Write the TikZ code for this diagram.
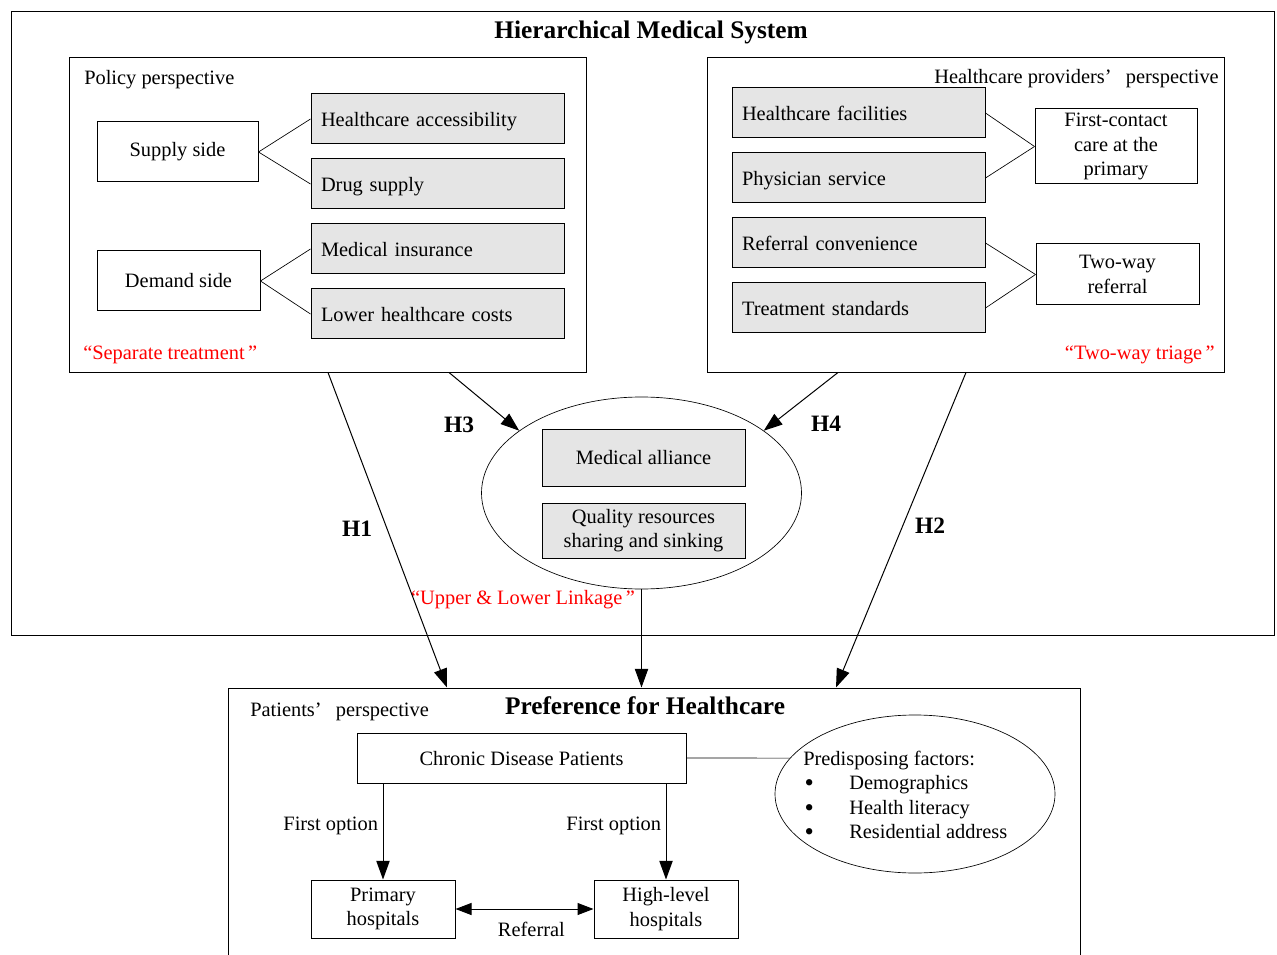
\documentclass[tikz,border=0pt]{standalone}
\usepackage{fontspec}
\setmainfont{Liberation Serif}
\usetikzlibrary{arrows.meta,shapes.geometric}

\newcommand{\listdot}{\makebox[34.5pt][l]{\hspace{1pt}\smash{\raisebox{-0.2ex}{\scalebox{1.3}{\textbullet}}}}}

\begin{document}
\begin{tikzpicture}[x=0.75pt,y=-0.75pt,
  every node/.style={font=\fontsize{15.3}{18.4}\selectfont},
  frame/.style={draw,line width=0.75pt,inner sep=0pt},
  greybox/.style={frame,fill=gray!20,minimum width=189.75pt,minimum height=37.5pt,text width=174.75pt,align=left,inner xsep=7.5pt,text depth=0pt},
  whitebox/.style={frame,align=center},
  oval/.style={draw,ellipse,line width=0.5pt,inner sep=0pt},
  link/.style={line width=0.5pt},
  arr/.style={line width=0.75pt,-{Triangle[length=14pt,width=10pt]}},
  hyp/.style={font=\fontsize{17.6}{20}\selectfont\bfseries},
  heading/.style={font=\fontsize{19}{22}\selectfont\bfseries},
  slogan/.style={text=red,inner sep=0pt}]
    \path[use as bounding box,clip] (0,0) rectangle (1277,955);

    \node[frame,minimum width=947.25pt,minimum height=467.25pt] (system) at (642.5,323.5) {};
    \node[heading] (systitle) at (651,32) {Hierarchical Medical System};

    \node[frame,minimum width=387.75pt,minimum height=235.5pt] (policy) at (327.5,215) {};
    \node[anchor=west,inner sep=0pt] (policylab) at (84,80) {Policy perspective};
    \node[whitebox,minimum width=120.75pt,minimum height=45pt] (supply) at (177.5,152) {Supply side};
    \node[whitebox,minimum width=122.25pt,minimum height=45pt] (demand) at (178.5,281) {Demand side};
    \node[greybox] (access) at (437.5,119) {Healthcare accessibility};
    \node[greybox] (drug) at (437.5,184) {Drug supply};
    \node[greybox] (insur) at (437.5,249) {Medical insurance};
    \node[greybox] (costs) at (437.5,314) {Lower healthcare costs};
    \node[slogan,anchor=west] (separate) at (83,355) {“Separate treatment\,”};

    \node[frame,minimum width=387.75pt,minimum height=235.5pt] (provider) at (965.5,215) {};
    \node[anchor=east,inner sep=0pt] (providerlab) at (1219,79) {Healthcare providers’\hspace{0.7em}perspective};
    \node[greybox] (facil) at (858.5,113) {Healthcare facilities};
    \node[greybox] (physic) at (858.5,178) {Physician service};
    \node[greybox] (refconv) at (858.5,243) {Referral convenience};
    \node[greybox] (treat) at (858.5,308) {Treatment standards};
    \node[whitebox,minimum width=121.5pt,minimum height=56.25pt] (firstcare) at (1116,146.5) {First-contact\\care at the\\primary};
    \node[whitebox,minimum width=122.25pt,minimum height=45.75pt] (twoway) at (1117.5,274.5) {Two-way\\referral};
    \node[slogan,anchor=east] (triage) at (1215,355) {“Two-way triage\,”};

    \node[oval,minimum width=240pt,minimum height=144pt] (alliance) at (641.5,493) {};
    \node[frame,fill=gray!20,minimum width=152.25pt,minimum height=42.75pt,text depth=0pt] (medall) at (643.5,457.5) {Medical alliance};
    \node[frame,fill=gray!20,minimum width=152.25pt,minimum height=41.25pt,align=center] (quality) at (643.5,530.5) {Quality resources\\sharing and sinking};
    \node[slogan] (linkage) at (523,600) {“Upper \& Lower Linkage\,”};

    \node[hyp] (h1) at (357,529) {H1};
    \node[hyp] (h2) at (930,526) {H2};
    \node[hyp] (h3) at (459,425) {H3};
    \node[hyp] (h4) at (826,424) {H4};

    \node[frame,minimum width=639pt,minimum height=225pt] (pref) at (654,838) {};
    \node[heading] (preftitle) at (645,706) {Preference for Healthcare};
    \node[anchor=west,inner sep=0pt] (patlab) at (250,712) {Patients’\hspace{0.7em}perspective};
    \node[whitebox,minimum width=246.75pt,minimum height=37.5pt,text depth=0pt] (chronic) at (521.5,758) {Chronic Disease Patients};
    \node[oval,minimum width=210pt,minimum height=118.5pt] (factors) at (915,794) {};
    \node[anchor=west,inner sep=0pt,align=left] (factorlist) at (803,795) {Predisposing factors:\\
      \listdot Demographics\\
      \listdot Health literacy\\
      \listdot Residential address};
    \node[whitebox,minimum width=108pt,minimum height=43.5pt] (primary) at (383,909) {Primary\\hospitals};
    \node[whitebox,minimum width=108pt,minimum height=43.5pt] (high) at (666,909) {High-level\\hospitals};

    \draw[link] (supply.east) -- (access.west);
    \draw[link] (supply.east) -- (drug.west);
    \draw[link] (demand.east) -- (insur.west);
    \draw[link] (demand.east) -- (costs.west);
    \draw[link] (facil.east) -- (firstcare.west);
    \draw[link] (physic.east) -- (firstcare.west);
    \draw[link] (refconv.east) -- (twoway.west);
    \draw[link] (treat.east) -- (twoway.west);

    \draw[arr] (449,0 |- policy.south) -- (alliance.153);
    \draw[arr] (838,0 |- provider.south) -- (alliance.27);
    \draw[arr] (328,0 |- policy.south) -- (447,0 |- pref.north);
    \draw[arr] (966,0 |- provider.south) -- (836,0 |- pref.north);
    \draw[arr] (alliance.south) -- (alliance.south |- pref.north);
    \draw[link] (chronic.east) -- (factors.164);
    \draw[arr] (chronic.south -| primary.north) -- node[left,pos=0.44] {First option} (primary.north);
    \draw[arr] (chronic.south -| high.north) -- node[left,pos=0.44] {First option} (high.north);
    \draw[arr,{Triangle[length=12pt,width=9pt]}-{Triangle[length=12pt,width=9pt]}] (primary.east) -- node[below=6pt,pos=0.55] {Referral} (high.west);
\end{tikzpicture}
\end{document}
